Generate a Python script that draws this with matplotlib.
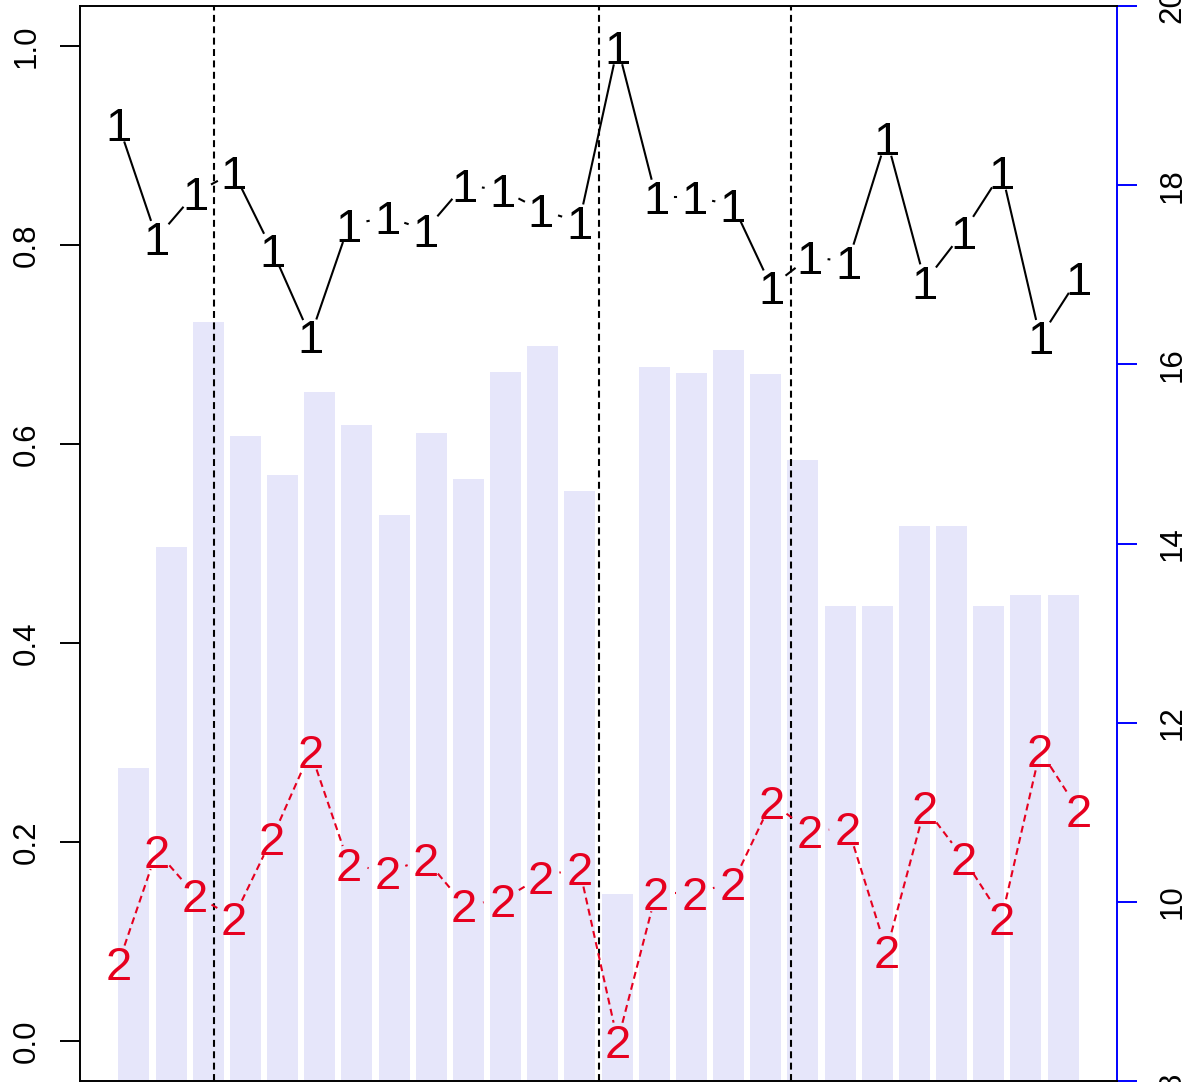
import numpy as np
import matplotlib
matplotlib.use("Agg")
import matplotlib.pyplot as plt
from matplotlib.transforms import offset_copy

plt.rcParams["font.family"] = ["Liberation Sans", "DejaVu Sans"]
plt.rcParams["lines.scale_dashes"] = False

# values
series_1 = [0.921, 0.807, 0.852, 0.873, 0.795, 0.708, 0.820, 0.828, 0.815,
            0.860, 0.855, 0.835, 0.823, 0.999, 0.848, 0.848, 0.840, 0.758,
            0.788, 0.783, 0.907, 0.763, 0.813, 0.873, 0.707, 0.767]
series_2 = [0.078, 0.191, 0.147, 0.124, 0.204, 0.291, 0.178, 0.170, 0.183,
            0.137, 0.142, 0.165, 0.174, 0.000, 0.149, 0.149, 0.159, 0.240,
            0.211, 0.214, 0.091, 0.235, 0.184, 0.124, 0.292, 0.232]
bar_values = [11.49, 13.96, 16.47, 15.20, 14.77, 15.69, 15.32, 14.32, 15.23,
              14.72, 15.92, 16.20, 14.59, 10.09, 15.97, 15.90, 16.16, 15.89,
              14.93, 13.30, 13.30, 14.19, 14.19, 13.30, 13.43, 13.43]
break_points = [3.5, 13.5, 18.5]
left_ticks = [0.0, 0.2, 0.4, 0.6, 0.8, 1.0]
right_ticks = [8, 10, 12, 14, 16, 18, 20]

RED = "#E6001F"
BAR = "#E6E6FA"
BLUE = "#0000FF"
W, H = 1190, 1082
pos = [80 / W, 1 / H, 1037 / W, 1075 / H]

fig = plt.figure(figsize=(W / 100, H / 100), dpi=100)

# bars on the right-hand axis
axb = fig.add_axes(pos)
n = len(bar_values)
bar_x = 0.7 + 1.2 * np.arange(n)
axb.bar(bar_x, bar_values, width=1.0, color=BAR, edgecolor="none")
axb.set_xlim(-1.04, 32.44)
axb.set_ylim(8, 20)
axb.yaxis.tick_right()
axb.set_yticks(right_ticks)
axb.set_yticklabels([str(t) for t in right_ticks], rotation=90, va="center")
axb.tick_params(axis="y", direction="out", length=14.4, width=1.4,
                colors=BLUE, labelcolor="black", labelsize=22.5, pad=15)
axb.set_xticks([])
for side in ["left", "top", "bottom"]:
    axb.spines[side].set_visible(False)
axb.spines["right"].set_color(BLUE)
axb.spines["right"].set_linewidth(1.4)

# lines on the left-hand axis
ax = fig.add_axes(pos)
ax.patch.set_visible(False)
ax.set_xlim(0, 27)
ax.set_ylim(-0.04, 1.04)
ax.spines["right"].set_visible(False)
for side in ["left", "top", "bottom"]:
    ax.spines[side].set_linewidth(1.4)
ax.set_xticks([])
ax.set_yticks(left_ticks)
ax.set_yticklabels([f"{t:.1f}" for t in left_ticks], rotation=90, va="center")
ax.tick_params(axis="y", direction="out", length=14.4, width=1.4,
               labelsize=22.5, pad=13)

for xb in break_points:
    ax.axvline(xb, color="black", lw=1.5, dashes=(5, 3.2), zorder=3)

xs = np.arange(1, n + 1)
gap_px = 19


def draw_type_b(xv, yv, label, color, dashes):
    pts = ax.transData.transform(np.column_stack([xv, yv]))
    inv = ax.transData.inverted()
    for p0, p1 in zip(pts[:-1], pts[1:]):
        d = p1 - p0
        length = np.hypot(*d)
        if length <= 2 * gap_px:
            continue
        u = d / length
        seg = inv.transform(np.array([p0 + u * gap_px, p1 - u * gap_px]))
        if dashes is None:
            ax.plot(seg[:, 0], seg[:, 1], color=color, lw=1.5, zorder=4)
        else:
            ax.plot(seg[:, 0], seg[:, 1], color=color, lw=1.5,
                    dashes=dashes, zorder=4)
    fs = 34
    trans = offset_copy(ax.transData, fig=fig, y=-0.358 * fs, units="points")
    for x, y in zip(xv, yv):
        ax.text(x, y, label, color=color, fontsize=fs, ha="center",
                va="baseline", transform=trans, zorder=5)


draw_type_b(xs, series_1, "1", "black", None)
draw_type_b(xs, series_2, "2", RED, (5, 3.2))

fig.savefig("out.png", dpi=100)
